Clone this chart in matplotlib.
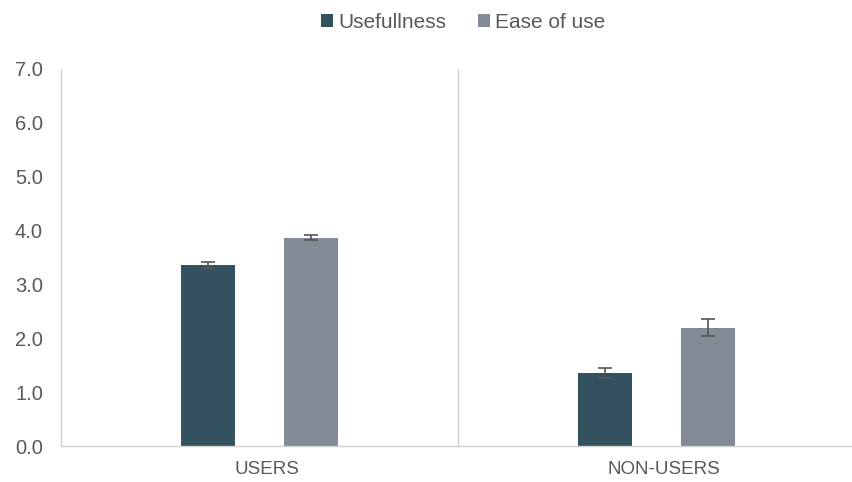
import matplotlib.pyplot as plt
from matplotlib.transforms import ScaledTranslation
import numpy as np

plt.rcParams['font.family'] = ['Liberation Sans', 'DejaVu Sans']

# data
groups = ["USERS", "NON-USERS"]
series = ["Usefullness", "Ease of use"]
usefulness = [3.36, 1.35]
usefulness_err = [0.06, 0.09]
ease = [3.87, 2.20]
ease_err = [0.05, 0.15]
yticks = [0, 1, 2, 3, 4, 5, 6, 7]

c_use = '#34515f'
c_ease = '#838b96'
grey_txt = '#595959'
axis_col = '#d0d0d0'

fig = plt.figure(figsize=(8.53, 4.82), dpi=100)
ax = fig.add_axes([61 / 853, 36 / 482, 794 / 853, 377 / 482])

x = np.arange(len(groups))
w = 0.136
off = 0.13
err_kw = dict(ecolor='#555555', elinewidth=1.2, capsize=5, capthick=1.2)
ax.bar(x - off, usefulness, w, yerr=usefulness_err, color=c_use, label=series[0], error_kw=err_kw)
ax.bar(x + off, ease, w, yerr=ease_err, color=c_ease, label=series[1], error_kw=err_kw)

ax.set_xlim(-0.5, 1.5)
ax.set_ylim(0, 7)
ax.set_yticks(yticks)
ax.set_yticklabels([f"{v:.1f}" for v in yticks], fontsize=14.5, color=grey_txt)
ax.set_xticks(x)
ax.set_xticklabels(groups, fontsize=13.5, color=grey_txt)
ax.tick_params(axis='both', length=0)
ax.tick_params(axis='y', pad=13)
ax.tick_params(axis='x', pad=11)
# labels sit slightly right of the category centre in the original
shift = ScaledTranslation(7 / 100, 0, fig.dpi_scale_trans)
for lab in ax.get_xticklabels():
    lab.set_transform(lab.get_transform() + shift)

for s in ['top', 'right']:
    ax.spines[s].set_visible(False)
for s in ['left', 'bottom']:
    ax.spines[s].set_color(axis_col)
    ax.spines[s].set_linewidth(1)
ax.axvline(0.5, color=axis_col, lw=1)

leg = fig.legend(loc='center', bbox_to_anchor=(0.543, 0.954), ncol=2, frameon=False,
                 fontsize=15, handlelength=0.6, handleheight=0.6, handletextpad=0.25,
                 columnspacing=1.5)
for t in leg.get_texts():
    t.set_color(grey_txt)

fig.savefig('out.png', dpi=100)
